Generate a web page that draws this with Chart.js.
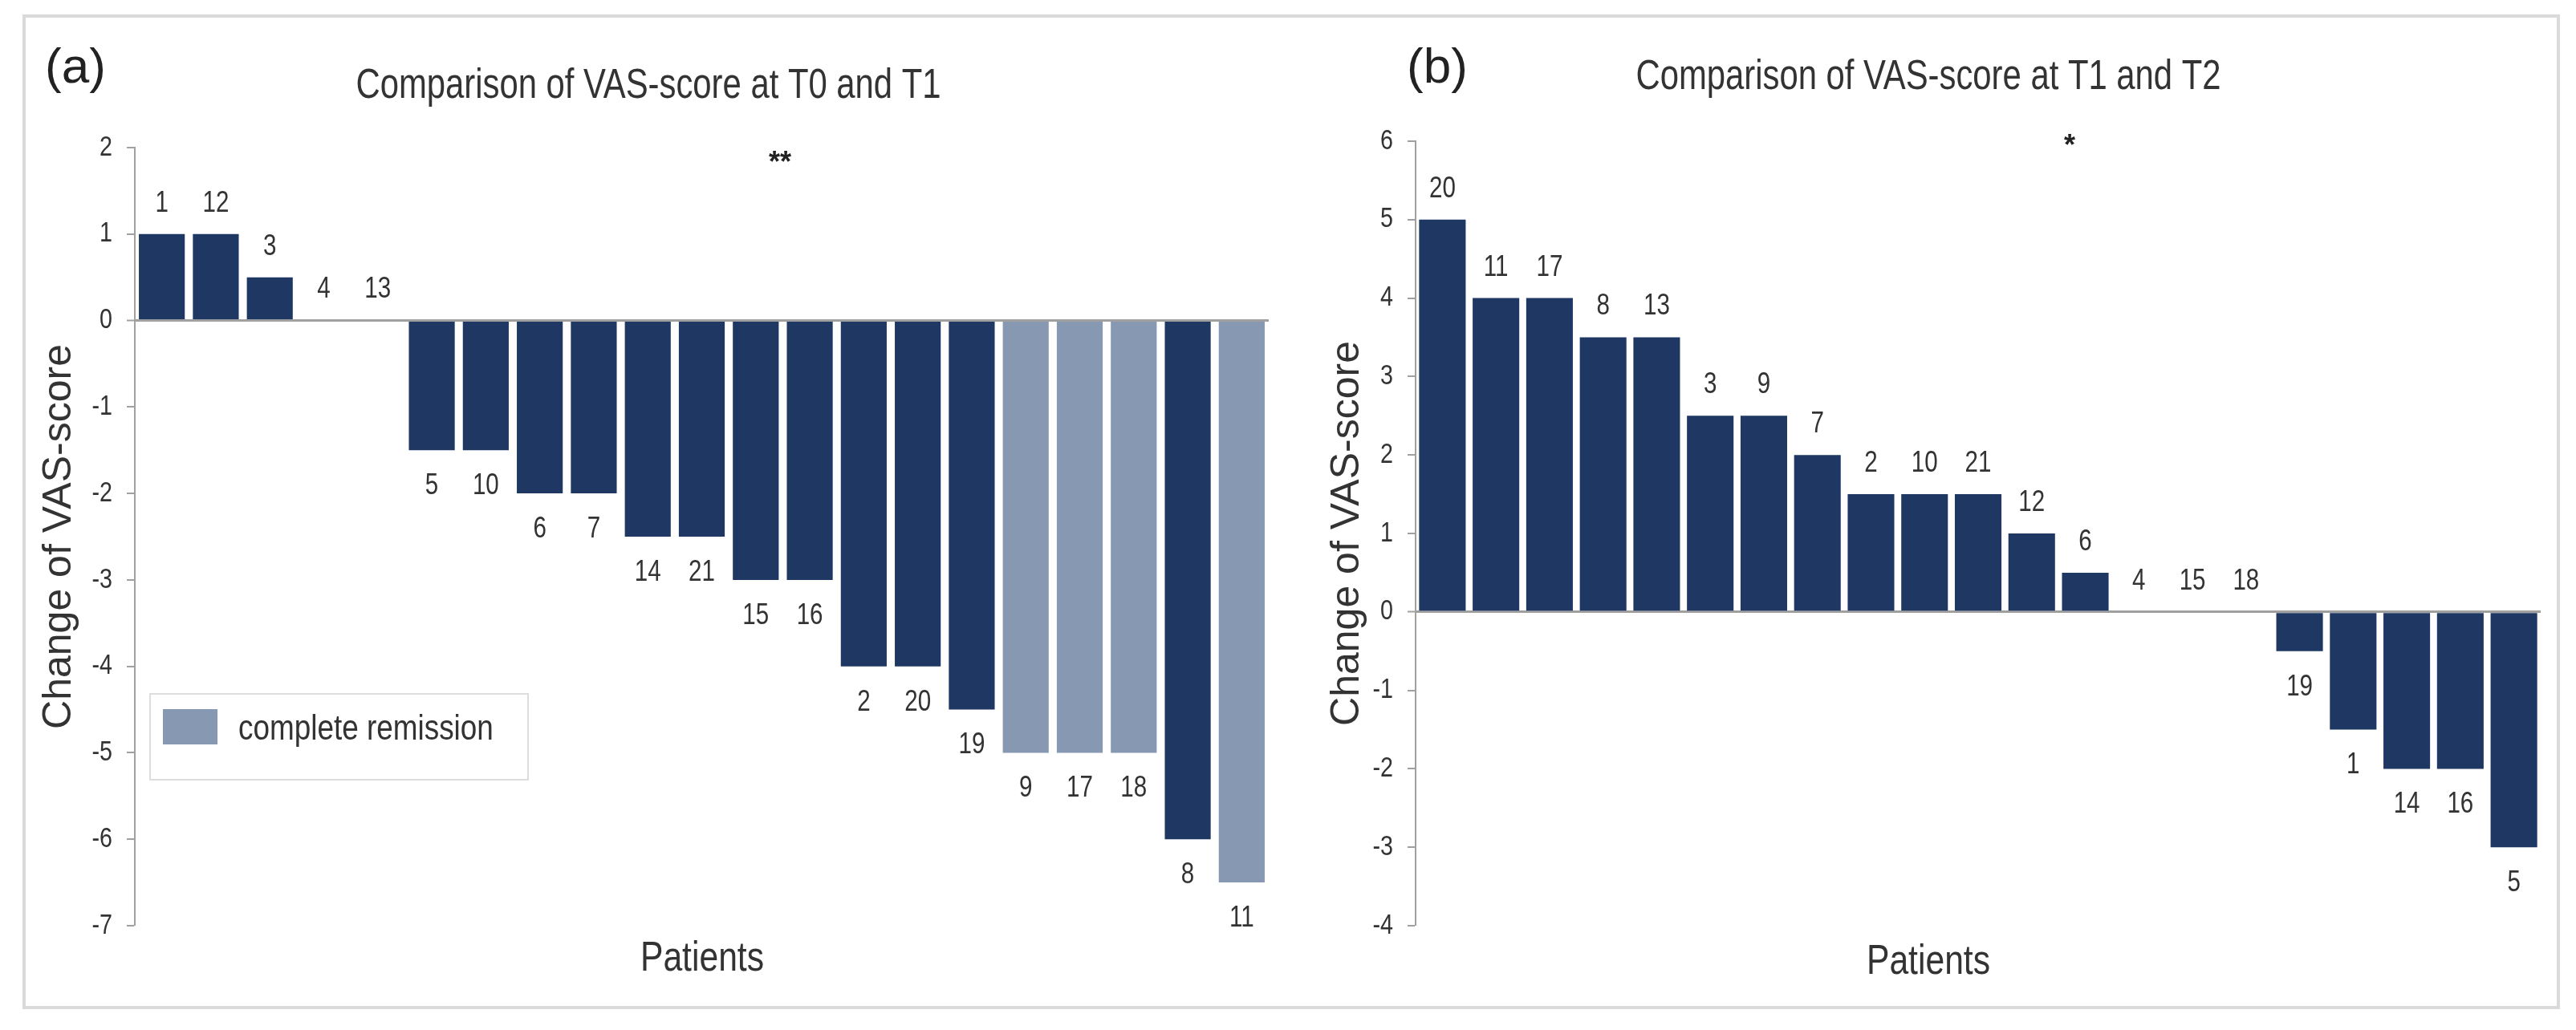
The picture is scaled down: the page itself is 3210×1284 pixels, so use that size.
<!DOCTYPE html>
<html>
<head>
<meta charset="utf-8">
<script src="https://cdn.jsdelivr.net/npm/chart.js@4.4.1/dist/chart.umd.min.js"></script>
<style>
  html, body { margin: 0; padding: 0; background: #fff; }
  body { width: 3210px; height: 1284px; position: relative; overflow: hidden; }
  #frame { position: absolute; left: 28px; top: 18px; width: 3162px; height: 1240px;
           border: 4px solid #dadada; box-sizing: border-box; }
  .panel { position: absolute; top: 0; width: 1605px; height: 1284px; }
  #panelA { left: 0; }
  #panelB { left: 1605px; }
</style>
</head>
<body>
<div id="frame"></div>
<div class="panel" id="panelA"><canvas id="chartA"></canvas></div>
<div class="panel" id="panelB"><canvas id="chartB"></canvas></div>
<script>
// (a) T0 -> T1
const patientsA = ["1", "12", "3", "4", "13", "5", "10", "6", "7", "14", "21", "15", "16", "2", "20", "19", "9", "17", "18", "8", "11"];
const changeA = [1, 1, 0.5, 0, 0, -1.5, -1.5, -2, -2, -2.5, -2.5, -3, -3, -4, -4, -4.5, -5, -5, -5, -6, -6.5];
const remissionA = ["9", "17", "18", "11"];
const yRangeA = [-7, 2];

// (b) T1 -> T2
const patientsB = ["20", "11", "17", "8", "13", "3", "9", "7", "2", "10", "21", "12", "6", "4", "15", "18", "19", "1", "14", "16", "5"];
const changeB = [5, 4, 4, 3.5, 3.5, 2.5, 2.5, 2, 1.5, 1.5, 1.5, 1, 0.5, 0, 0, 0, -0.5, -1.5, -2, -2, -3];
const yRangeB = [-4, 6];

const NAVY = "#1f3763";
const LIGHT = "#8798b3";
const TEXT = "#333333";
const AXIS = "#a0a0a0";
const SANS = "'Liberation Sans', Arial, sans-serif";

// Arial Narrow look: Liberation Sans squeezed horizontally
const narrowText = (ctx, text, x, y, size, align, baseline, color, squeeze = 0.82) => {
  ctx.save();
  ctx.font = size + "px " + SANS;
  ctx.fillStyle = color || TEXT;
  ctx.textAlign = align;
  ctx.textBaseline = baseline;
  ctx.translate(x, y);
  ctx.scale(squeeze, 1);
  ctx.fillText(text, 0, 0);
  ctx.restore();
};

const yTickLabels = {
  id: "yTickLabels",
  afterDraw(chart) {
    const s = chart.scales.y;
    s.ticks.forEach((t) => {
      narrowText(chart.ctx, String(t.value), s.right - 28, s.getPixelForValue(t.value), 35, "right", "middle");
    });
  },
};

const barLabels = {
  id: "barLabels",
  afterDatasetsDraw(chart) {
    const meta = chart.getDatasetMeta(0);
    const values = chart.data.datasets[0].data;
    meta.data.forEach((bar, i) => {
      const y = values[i] >= 0 ? bar.y - 38 : bar.y + 45;
      narrowText(chart.ctx, chart.data.labels[i], bar.x, y, 36, "center", "middle");
    });
  },
};

const decor = (d) => ({
  id: "decor",
  afterDraw(chart) {
    const { ctx } = chart;
    narrowText(ctx, d.panel, d.panelX, 103, 62, "left", "alphabetic", "#222", 1);
    narrowText(ctx, d.title, d.titleX, d.titleY, 51, "center", "alphabetic");
    narrowText(ctx, "Patients", d.xTitleX, d.xTitleY, 52, "center", "alphabetic");

    ctx.save();
    ctx.font = "bold 36px " + SANS;
    ctx.fillStyle = "#222";
    ctx.textAlign = "center";
    ctx.fillText(d.stars, d.starX, d.starY);

    if (d.legend) {
      ctx.strokeStyle = "#dddddd";
      ctx.lineWidth = 2;
      ctx.strokeRect(187, 865, 471, 107);
      ctx.fillStyle = LIGHT;
      ctx.fillRect(203, 884, 68, 44);
    }
    ctx.restore();
    if (d.legend) {
      narrowText(ctx, d.legend, 297, 922, 45, "left", "alphabetic");
    }
  },
});

const makeChart = (id, labels, values, colors, yRange, layout, barPct, d) => {
  const ctx = document.getElementById(id).getContext("2d");
  return new Chart(ctx, {
    type: "bar",
    data: {
      labels: labels,
      datasets: [
        {
          data: values,
          backgroundColor: colors,
          borderWidth: 0,
          categoryPercentage: 1,
          barPercentage: barPct,
        },
      ],
    },
    options: {
      responsive: true,
      maintainAspectRatio: false,
      animation: false,
      layout: { padding: layout.padding },
      plugins: {
        legend: { display: false },
        tooltip: { enabled: false },
      },
      scales: {
        x: { display: false },
        y: {
          min: yRange[0],
          max: yRange[1],
          afterFit: (scale) => {
            scale.width = layout.axisWidth;
          },
          ticks: {
            stepSize: 1,
            display: false,
          },
          grid: {
            color: (c) => (c.tick && c.tick.value === 0 ? AXIS : "rgba(0,0,0,0)"),
            lineWidth: (c) => (c.tick && c.tick.value === 0 ? 3 : 0),
            tickColor: AXIS,
            tickWidth: 2,
            tickLength: 10,
            drawTicks: true,
          },
          border: { display: true, color: AXIS, width: 2 },
          title: {
            display: true,
            text: "Change of VAS-score",
            color: TEXT,
            font: { family: SANS, size: 50 },
            padding: { top: 44, bottom: 0 },
          },
        },
      },
    },
    plugins: [barLabels, yTickLabels, decor(d)],
  });
};

makeChart(
  "chartA",
  patientsA,
  changeA,
  patientsA.map((p) => (remissionA.includes(p) ? LIGHT : NAVY)),
  yRangeA,
  { axisWidth: 168, padding: { left: 0, top: 184, right: 24, bottom: 130 } },
  0.85,
  {
    panel: "(a)", panelX: 56,
    title: "Comparison of VAS-score at T0 and T1", titleX: 808, titleY: 122,
    stars: "**", starX: 972, starY: 214,
    xTitleX: 875, xTitleY: 1210,
    legend: "complete remission",
  }
);

makeChart(
  "chartB",
  patientsB,
  changeB,
  NAVY,
  yRangeB,
  { axisWidth: 159, padding: { left: 0, top: 176, right: 44, bottom: 130 } },
  0.87,
  {
    panel: "(b)", panelX: 148,
    title: "Comparison of VAS-score at T1 and T2", titleX: 798, titleY: 111,
    stars: "*", starX: 974, starY: 193,
    xTitleX: 798, xTitleY: 1214,
    legend: null,
  }
);
</script>
</body>
</html>
